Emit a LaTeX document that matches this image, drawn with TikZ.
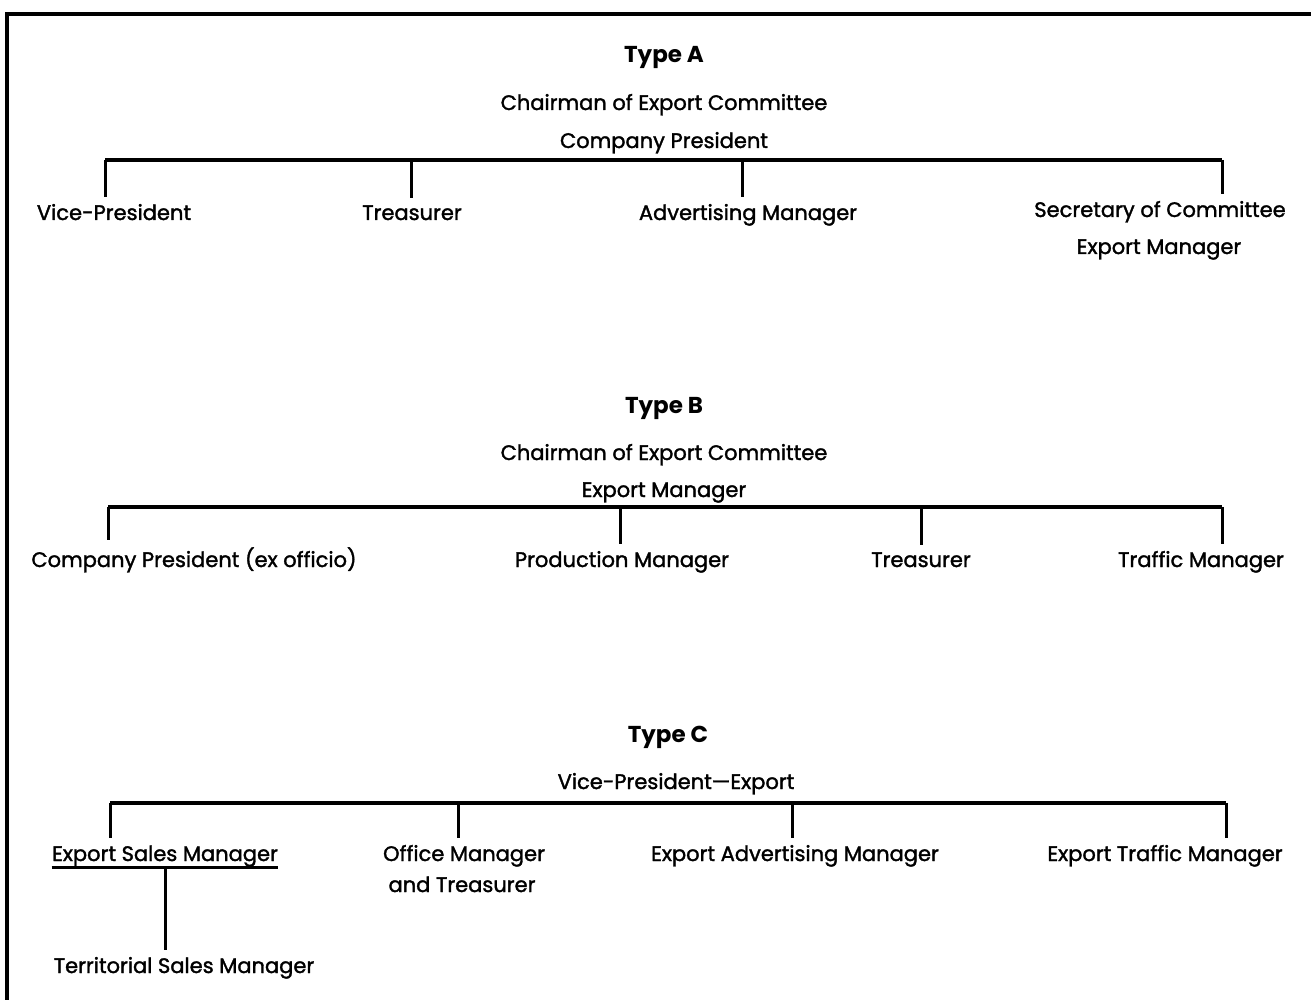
\documentclass[tikz,border=0pt]{standalone}
\usepackage{fontspec}
\setmainfont{Poppins}[UprightFeatures={FakeBold=1.6}]
\begin{document}
\begin{tikzpicture}[x=0.5pt, y=-0.5pt, font=\fontsize{10.5}{12}\selectfont,
  bar/.style={line width=1.6pt},
  tick/.style={line width=1.5pt},
  lbl/.style={anchor=base, inner xsep=0pt, inner ysep=3.5pt},
  head/.style={anchor=base, font=\fontsize{11.5}{13}\selectfont\bfseries}]
  \useasboundingbox (0,0) rectangle (1311,1000);
  % frame, top and left edge only
  \draw[bar] (7,1000) -- (7,14) -- (1311,14);

  % Type A
  \node[head] (ta) at (664,63) {Type A};
  \node[lbl] (ta-chair) at (664,110) {Chairman of Export Committee};
  \node[lbl] (ta-pres) at (664,148) {Company President};
  \coordinate (ta-l) at (105,160);
  \coordinate (ta-r) at (1222,160);
  \draw[bar] (ta-l) -- (ta-r);
  \node[lbl] (ta-vp) at (114,220) {Vice-President};
  \node[lbl] (ta-tr) at (412,220) {Treasurer};
  \node[lbl] (ta-adv) at (748,220) {Advertising Manager};
  \node[lbl] (ta-sec) at (1160,217) {Secretary of Committee};
  \node[lbl] (ta-exp) at (1159,254) {Export Manager};
  \foreach \x/\n in {105/ta-vp, 411/ta-tr, 742/ta-adv, 1222/ta-sec}
    \draw[tick] (\x,160) -- (\x,160 |- \n.north);

  % Type B
  \node[head] (tb) at (664,413) {Type B};
  \node[lbl] (tb-chair) at (664,460) {Chairman of Export Committee};
  \node[lbl] (tb-exp) at (664,497) {Export Manager};
  \coordinate (tb-l) at (108,507);
  \coordinate (tb-r) at (1222,507);
  \draw[bar] (tb-l) -- (tb-r);
  \node[lbl] (tb-pres) at (194,567) {Company President (ex officio)};
  \node[lbl] (tb-prod) at (622,567) {Production Manager};
  \node[lbl] (tb-tr) at (921,567) {Treasurer};
  \node[lbl] (tb-traf) at (1201,567) {Traffic Manager};
  \foreach \x/\n in {108/tb-pres, 620/tb-prod, 921/tb-tr, 1222/tb-traf}
    \draw[tick] (\x,507) -- (\x,507 |- \n.north);

  % Type C
  \node[head] (tc) at (668,742) {Type C};
  \node[lbl] (tc-vp) at (676,789) {Vice-President---Export};
  \coordinate (tc-l) at (110,803);
  \coordinate (tc-r) at (1226,803);
  \draw[bar] (tc-l) -- (tc-r);
  \node[lbl] (tc-sales) at (165,861) {Export Sales Manager};
  \node[lbl] (tc-off) at (464,861) {Office Manager};
  \node[lbl] (tc-off2) at (462,892) {and Treasurer};
  \node[lbl] (tc-adv) at (795,861) {Export Advertising Manager};
  \node[lbl] (tc-traf) at (1165,861) {Export Traffic Manager};
  \foreach \x/\n in {110/tc-sales, 458/tc-off, 792/tc-adv, 1226/tc-traf}
    \draw[tick] (\x,803) -- (\x,803 |- \n.north);
  % underline and territorial branch
  \draw[tick] ([yshift=-3pt]tc-sales.base west) -- ([yshift=-3pt]tc-sales.base east);
  \coordinate (tc-u) at ([yshift=-3pt]tc-sales.base);
  \node[lbl] (tc-terr) at (184,973) {Territorial Sales Manager};
  \draw[tick] (tc-u) -- (tc-u |- tc-terr.north);
\end{tikzpicture}
\end{document}
